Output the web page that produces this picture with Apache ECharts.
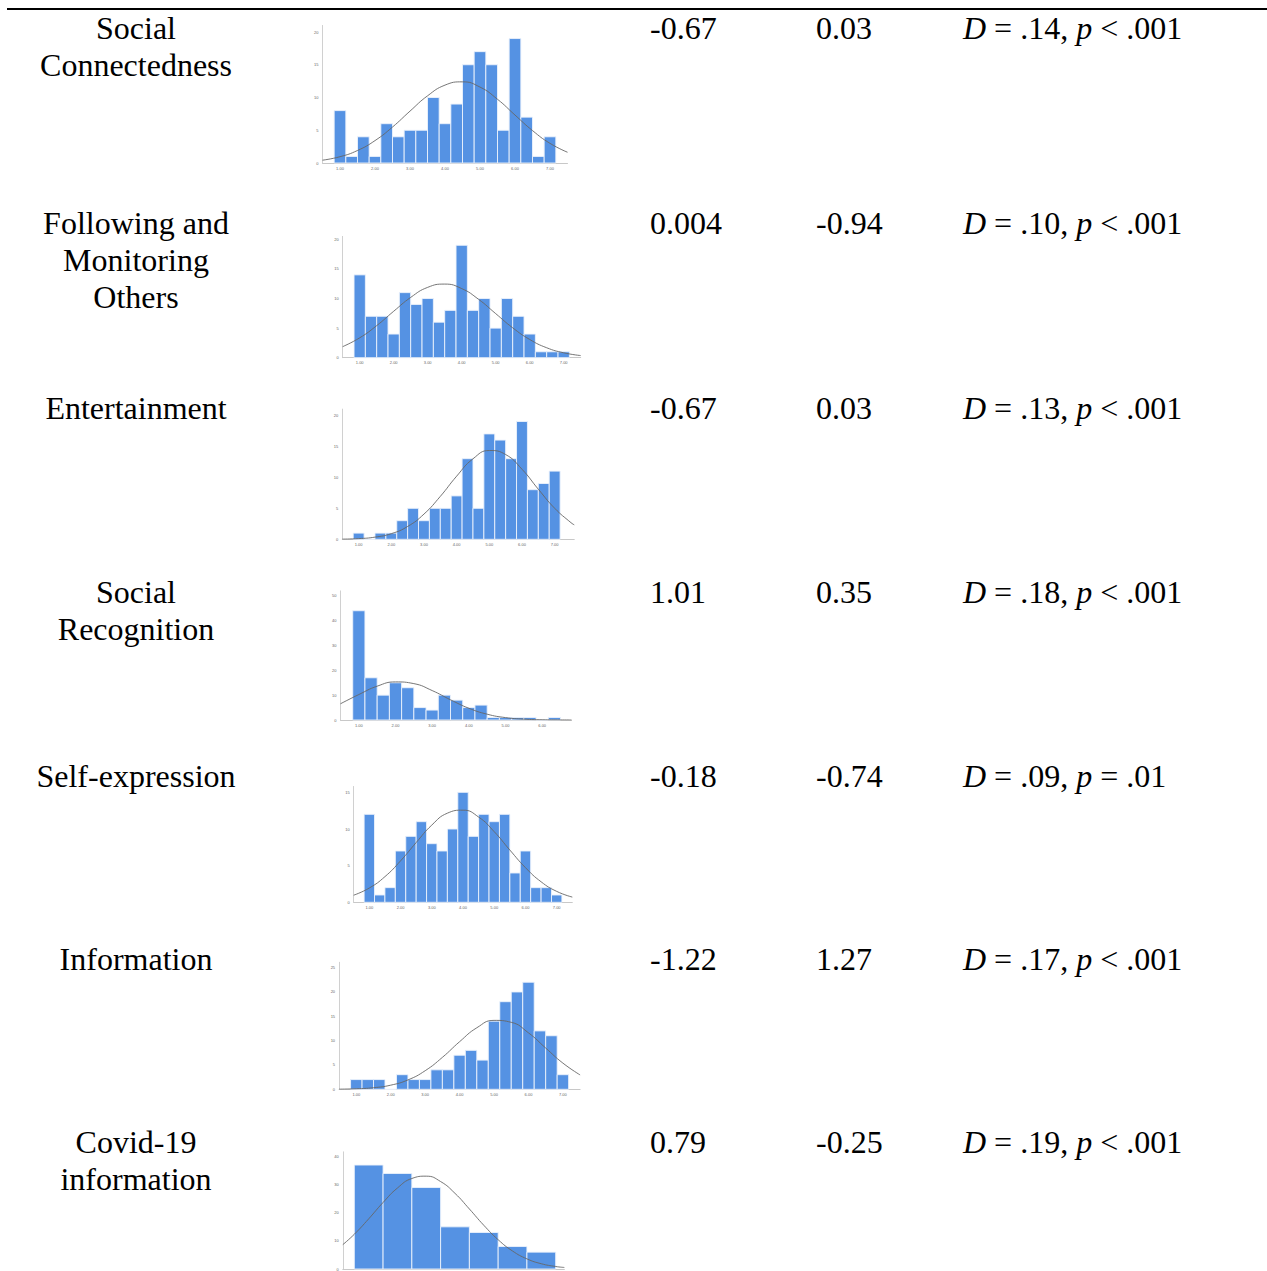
<!DOCTYPE html>
<html><head><meta charset="utf-8">
<script src="https://cdn.jsdelivr.net/npm/echarts@6/dist/echarts.min.js"></script>
<style>html,body{margin:0;padding:0;background:#fff}#c{width:1267px;height:1271px}</style>
</head><body><div id="c"></div>
<script>
// ---------- table text ----------
const rowLabels = [
  ['Social', 'Connectedness'],
  ['Following and', 'Monitoring', 'Others'],
  ['Entertainment'],
  ['Social', 'Recognition'],
  ['Self-expression'],
  ['Information'],
  ['Covid-19', 'information']
];
const skewness = ['-0.67', '0.004', '-0.67', '1.01', '-0.18', '-1.22', '0.79'];
const kurtosis = ['0.03', '-0.94', '0.03', '0.35', '-0.74', '1.27', '-0.25'];
const ksD = ['.14', '.10', '.13', '.18', '.09', '.17', '.19'];
const ksP = ['< .001', '< .001', '< .001', '< .001', '= .01', '< .001', '< .001'];

// ---------- histogram data (bin counts, bins of width binWidth starting at centre binStart) ----------
const countsSocialConnectedness = [8, 1, 4, 1, 6, 4, 5, 5, 10, 6, 9, 15, 17, 15, 5, 19, 7, 1, 4];
const countsFollowing = [14, 7, 7, 4, 11, 9, 10, 6, 8, 19, 8, 10, 5, 10, 7, 4, 1, 1, 1];
const countsEntertainment = [1, 0, 1, 1, 3, 5, 3, 5, 5, 7, 13, 5, 17, 16, 13, 19, 8, 9, 11];
const countsRecognition = [44, 17, 10, 15, 13, 5, 4, 10, 8, 5, 6, 1, 1, 1, 1, 0, 1];
const countsSelfExpression = [12, 1, 2, 7, 9, 11, 8, 7, 10, 15, 9, 12, 11, 12, 4, 7, 2, 2, 1];
const countsInformation = [2, 2, 2, 0, 3, 2, 2, 4, 4, 7, 8, 6, 14, 18, 20, 22, 12, 11, 3];
const countsCovid = [37, 34, 29, 15, 13, 8, 6];
const binStarts = [1, 1, 1, 1, 1, 1, 1];
const binWidths = [1/3, 1/3, 1/3, 1/3, 1/3, 1/3, 1];

// ---------- normal curves ----------
const curveX_std = [0.5, 1, 1.5, 2, 2.5, 3, 3.5, 4, 4.5, 5, 5.5, 6, 6.5, 7, 7.5];
const curveY_SocialConnectedness = [0.43, 0.96, 1.91, 3.42, 5.49, 7.92, 10.25, 11.89, 12.39, 11.59, 9.73, 7.32, 4.95, 3.00, 1.64];
const curveY_Following = [1.87, 3.36, 5.42, 7.85, 10.19, 11.89, 12.44, 11.68, 9.85, 7.45, 5.05, 3.08, 1.68, 0.83, 0.36];
const curveX_Entertainment = [0.5, 1, 1.5, 2, 2.5, 3, 3.5, 4, 4.5, 5, 5.5, 6, 6.5, 7, 7.5, 7.6];
const curveY_Entertainment = [0.03, 0.11, 0.35, 0.91, 2.07, 4.07, 6.92, 10.18, 12.98, 14.32, 13.67, 11.30, 8.08, 5.01, 2.68, 2.33];
const curveX_Recognition = [0.5, 1, 1.5, 2, 2.5, 3, 3.5, 4, 4.5, 5, 5.5, 6, 6.5, 6.8];
const curveY_Recognition = [6.54, 10.25, 13.62, 15.34, 14.65, 11.85, 8.13, 4.73, 2.33, 0.97, 0.35, 0.10, 0.03, 0.01];
const curveY_SelfExpression = [0.97, 1.95, 3.50, 5.65, 8.15, 10.53, 12.16, 12.57, 11.63, 9.63, 7.13, 4.73, 2.80, 1.49, 0.71];
const curveY_Information = [0.03, 0.11, 0.32, 0.85, 1.93, 3.82, 6.56, 9.78, 12.64, 14.16, 13.76, 11.60, 8.48, 5.38, 2.95];
const curveX_Covid = [0.1, 0.5, 1, 1.5, 2, 2.5, 3, 3.5, 4, 4.5, 5, 5.5, 6, 6.5, 7, 7.5, 7.8];
const curveY_Covid = [8.67, 12.36, 17.85, 23.68, 28.83, 32.21, 33.04, 31.12, 26.92, 21.36, 15.57, 10.42, 6.40, 3.61, 1.87, 0.89, 0.55];

const yTickSteps = [5, 5, 5, 10, 5, 5, 10];

// ---------- layout ----------
const FONT = 'Liberation Serif';
const FS = 32;
const LINE_H = 37;
const rowFirstLineY = [27.5, 222.5, 407.5, 591.5, 775.5, 958.5, 1141.5];
const colX = { label: 136, skew: 650, kurt: 816, ks: 963 };
// per histogram: x range, left px, px per x unit, baseline px, px per count, y max
const histLayout = [
  { xMin: 0.5, xMax: 7.5, left: 322.5, pxX: 35.0, base: 163.0, pxY: 6.55, yMax: 21 },
  { xMin: 0.5, xMax: 7.5, left: 342.7, pxX: 34.0, base: 357.7, pxY: 5.917, yMax: 20.5 },
  { xMin: 0.5, xMax: 7.6, left: 342.3, pxX: 32.67, base: 539.3, pxY: 6.2, yMax: 21 },
  { xMin: 0.5, xMax: 6.8, left: 340.5, pxX: 36.67, base: 720.0, pxY: 2.483, yMax: 52 },
  { xMin: 0.5, xMax: 7.5, left: 353.7, pxX: 31.23, base: 902.3, pxY: 7.33, yMax: 15.8 },
  { xMin: 0.5, xMax: 7.5, left: 339.1, pxX: 34.43, base: 1089.3, pxY: 4.867, yMax: 26.1 },
  { xMin: 0.1, xMax: 7.8, left: 342.8, pxX: 28.77, base: 1269.3, pxY: 2.817, yMax: 41.7 }
];

const BAR_COLOR = '#5592e3';
const countsAll = [countsSocialConnectedness, countsFollowing, countsEntertainment, countsRecognition, countsSelfExpression, countsInformation, countsCovid];
const curvesX = [curveX_std, curveX_std, curveX_Entertainment, curveX_Recognition, curveX_std, curveX_std, curveX_Covid];
const curvesY = [curveY_SocialConnectedness, curveY_Following, curveY_Entertainment, curveY_Recognition, curveY_SelfExpression, curveY_Information, curveY_Covid];

const grids = [], xAxes = [], yAxes = [], series = [];
histLayout.forEach((L, i) => {
  const width = (L.xMax - L.xMin) * L.pxX;
  const height = L.yMax * L.pxY;
  grids.push({ left: L.left, top: L.base - height, width: width, height: height });
  const isInt = v => Math.abs(v - Math.round(v)) < 1e-6;
  xAxes.push({
    gridIndex: i, type: 'value', min: L.xMin, max: L.xMax,
    interval: i === 6 ? 0.1 : 0.5,
    axisLine: { show: true, onZero: false, lineStyle: { color: '#c8c8c8', width: 1 } },
    axisTick: { show: false }, splitLine: { show: false },
    axisLabel: { show: i !== 6, fontSize: 4, color: '#666', margin: 3, fontFamily: 'Arial',
      showMinLabel: true, showMaxLabel: false,
      formatter: v => isInt(v) ? Math.round(v).toFixed(2) : '' }
  });
  const step = yTickSteps[i];
  yAxes.push({
    gridIndex: i, type: 'value', min: 0, max: L.yMax, interval: step,
    axisLine: { show: true, lineStyle: { color: '#d0d0d0', width: 1 } },
    axisTick: { show: false }, splitLine: { show: false },
    axisLabel: { fontSize: 4, color: '#666', margin: 4, fontFamily: 'Arial',
      formatter: v => (Math.abs(v / step - Math.round(v / step)) < 1e-6) ? String(v) : '' }
  });
  const bw = binWidths[i];
  const data = countsAll[i].map((c, k) => [binStarts[i] + k * bw, c]);
  series.push({
    type: 'custom', xAxisIndex: i, yAxisIndex: i, data: data, encode: { x: 0, y: 1 }, z: 2,
    silent: true, animation: false,
    renderItem: (params, api) => {
      const c = api.value(0), v = api.value(1);
      const p0 = api.coord([c - bw / 2, v]);
      const p1 = api.coord([c + bw / 2, 0]);
      return { type: 'rect', shape: { x: p0[0], y: p0[1], width: p1[0] - p0[0], height: p1[1] - p0[1] },
        style: { fill: BAR_COLOR, stroke: 'rgba(235,242,252,0.9)', lineWidth: 1 } };
    }
  });
  series.push({
    type: 'line', xAxisIndex: i, yAxisIndex: i, z: 3, silent: true, animation: false,
    data: curvesX[i].map((x, k) => [x, curvesY[i][k]]),
    smooth: 0.5, showSymbol: false, symbol: 'none',
    lineStyle: { color: '#666', width: 0.9 }
  });
});

// ---------- table text as graphic elements ----------
const graphic = [
  { type: 'line', shape: { x1: 7, y1: 9, x2: 1267, y2: 9 }, style: { stroke: '#000', lineWidth: 2 }, silent: true }
];
const txt = (text, x, y, align, rich) => ({
  type: 'text', x: x, y: y, silent: true,
  style: { text: text, fontFamily: FONT, fontSize: FS, fill: '#000', align: align, verticalAlign: 'middle',
    rich: rich || undefined }
});
const italicRich = { i: { fontFamily: FONT, fontSize: FS, fontStyle: 'italic', fill: '#000' },
                     n: { fontFamily: FONT, fontSize: FS, fill: '#000' } };
rowLabels.forEach((lines, r) => {
  const y0 = rowFirstLineY[r];
  lines.forEach((ln, k) => graphic.push(txt(ln, colX.label, y0 + k * LINE_H, 'center')));
  graphic.push(txt(skewness[r], colX.skew, y0, 'left'));
  graphic.push(txt(kurtosis[r], colX.kurt, y0, 'left'));
  graphic.push(txt('{i|D}{n| = ' + ksD[r] + ', }{i|p}{n| ' + ksP[r] + '}', colX.ks, y0, 'left', italicRich));
});

const chart = echarts.init(document.getElementById('c'), null, { renderer: 'svg', width: 1267, height: 1271 });
chart.setOption({
  animation: false,
  backgroundColor: '#fff',
  grid: grids, xAxis: xAxes, yAxis: yAxes, series: series, graphic: graphic
});
</script></body></html>
